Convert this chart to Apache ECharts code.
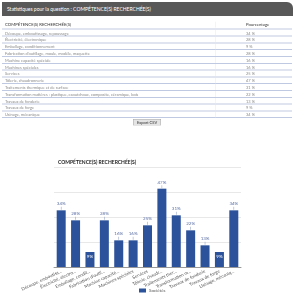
<!DOCTYPE html>
<html>
<head>
<meta charset="utf-8">
<script src="https://cdn.jsdelivr.net/npm/echarts@6/dist/echarts.min.js"></script>
<style>
  html, body { margin: 0; padding: 0; background: #fff; width: 294px; height: 300px; overflow: hidden; }
  /* page part is laid out at 2x and scaled down so small text is not clamped */
  #page { position: absolute; left: 0; top: 0; width: 588px; height: 300px; transform: scale(0.5); transform-origin: 0 0; font-family: Lato, "Open Sans", sans-serif; }
  #head { position: absolute; left: 4px; top: 4px; width: 582px; height: 28px; background: #585858; border-radius: 0 12px 0 0; color: #fff; font-size: 10px; line-height: 28px; padding-left: 10px; box-sizing: border-box; }
  .row { position: absolute; left: 4px; width: 580px; height: 13.6px; border-bottom: 2px solid #bfcae2; box-sizing: border-box; font-size: 8px; color: #8a8a8a; line-height: 12px; }
  .row span { position: absolute; top: 0; }
  .row .c1 { left: 6px; }
  .row .c3 { left: 488px; }
  .row .sep { position: absolute; left: 427px; top: 0; height: 12px; border-left: 1px solid #e3e8f2; }
  .hdr { color: #333; font-size: 8.5px; }
  #btn { position: absolute; left: 266px; top: 238px; width: 56px; height: 13px; background: #e4e4e4; border: 1px solid #a8a8a8; box-sizing: border-box; font-size: 8px; color: #333; text-align: center; line-height: 11px; }
  #chart { position: absolute; left: 0; top: 150px; width: 294px; height: 150px; }
</style>
</head>
<body>
<div id="page">
  <div id="head">Statistiques pour la question : COMPÉTENCE(S) RECHERCHÉE(S)</div>
  <div id="table"></div>
  <div id="btn">Export CSV</div>
</div>
<div id="chart"></div>
<script>
const questionTitle = "COMPÉTENCE(S) RECHERCHÉE(S)";
const categories = [
  "Découpe, emboutissage, repoussage",
  "Électricité, électronique",
  "Emballage, conditionnement",
  "Fabrication d'outillage, moule, modèle, maquette",
  "Machine capacité spéciale",
  "Machines spéciales",
  "Services",
  "Tôlerie, chaudronnerie",
  "Traitements thermique et de surface",
  "Transformation matières : plastique, caoutchouc, composite, céramique, bois",
  "Travaux de fonderie",
  "Travaux de forge",
  "Usinage, mécanique"
];
const tickLabels = [
  "Découpe, emboutiss...",
  "Électricité, électro...",
  "Emballage, condit...",
  "Fabrication d'outil...",
  "Machine capacité...",
  "Machines spéciales",
  "Services",
  "Tôlerie, chaudr...",
  "Traitements ther...",
  "Transformation m...",
  "Travaux de fonderie",
  "Travaux de forge",
  "Usinage, mécaniq..."
];
const percentages = [34, 28, 9, 28, 16, 16, 25, 47, 31, 22, 13, 9, 34];
const seriesName = "Sociétés";

// table (2x coordinates)
const table = document.getElementById("table");
let html = '<div class="row hdr" style="top:43px;height:16px;line-height:13px"><span class="c1">' + questionTitle +
  '</span><span class="sep"></span><span class="c3">Pourcentage</span></div>';
categories.forEach((c, i) => {
  const top = 59.6 + i * 13.6;
  html += '<div class="row" style="top:' + top + 'px"><span class="c1">' + c +
    '</span><span class="sep"></span><span class="c3">' + percentages[i] + ' %</span></div>';
});
table.innerHTML = html;

const chart = echarts.init(document.getElementById("chart"));
chart.setOption({
  animation: false,
  title: {
    text: questionTitle, left: 53, top: 5,
    textStyle: { fontSize: 5, fontWeight: "bold", color: "#222", fontFamily: "Lato" }
  },
  grid: { left: 54, right: 53, top: 17, bottom: 33, containLabel: false },
  legend: {
    left: 134, bottom: 2, icon: "rect", itemWidth: 7, itemHeight: 4, itemGap: 4,
    textStyle: { fontSize: 4.5, color: "#555", fontFamily: "Lato", padding: [0, 0, 0, -2] }
  },
  xAxis: {
    type: "category", data: categories,
    axisLine: { lineStyle: { color: "#999", width: 1 } },
    axisTick: { show: false },
    axisLabel: {
      interval: 0, rotate: 25, fontSize: 4.5, color: "#555", margin: 4, fontFamily: "Lato",
      formatter: (v, i) => tickLabels[i]
    }
  },
  yAxis: {
    type: "value", min: 0, max: 60, interval: 15,
    axisLabel: { show: false }, axisLine: { show: false }, axisTick: { show: false },
    splitLine: { lineStyle: { color: "#e8e8e8", width: 1 } }
  },
  series: [{
    name: seriesName, type: "bar", barWidth: 9,
    itemStyle: { color: "#2b529a" },
    data: percentages.map(v => v < 10
      ? { value: v, label: { position: "insideTop", distance: 2, formatter: "{w|{c}%}" } }
      : v),
    label: {
      show: true, position: "top", distance: 0.5, fontSize: 4.5, color: "#5a6fa5", fontFamily: "Lato",
      formatter: "{v|{c}%}\n{s|}",
      rich: {
        v: { fontSize: 4.5, color: "#5a6fa5", fontFamily: "Lato", lineHeight: 6 },
        w: { fontSize: 4.5, color: "#fff", fontFamily: "Lato" },
        s: { width: 0.6, height: 3, backgroundColor: "#9aa6c4" }
      }
    }
  }]
});
</script>
</body>
</html>
